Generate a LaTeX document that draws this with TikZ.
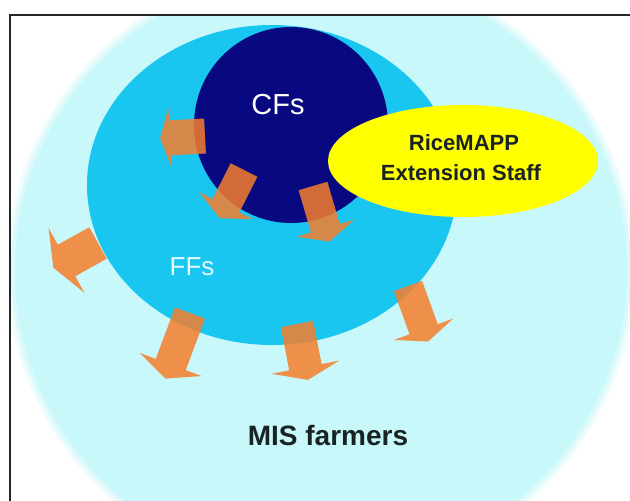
\documentclass[tikz,border=0pt]{standalone}
\usepackage{fontspec}
\setmainfont{Liberation Sans}
\usetikzlibrary{shapes.geometric}
\definecolor{palecyan}{RGB}{200,248,250}
\definecolor{medcyan}{RGB}{24,198,240}
\definecolor{cfnavy}{RGB}{8,8,128}
\definecolor{staffyellow}{RGB}{255,255,0}
\definecolor{arroworange}{RGB}{245,126,44}
\definecolor{darktext}{RGB}{25,35,35}
\tikzset{
  arrowstyle/.style={fill=arroworange, fill opacity=0.85, draw=none},
  pics/barrow/.style args={#1/#2/#3/#4}{code={
    \fill[arrowstyle] (0,-#1/2) -- (#2,-#1/2) -- (#2,-#4/2) -- (#2+#3,0)
      -- (#2,#4/2) -- (#2,#1/2) -- (0,#1/2) -- cycle;
  }},
  blob/.style={ellipse, inner sep=0pt, draw=none},
}
\begin{document}
\begin{tikzpicture}[x=1pt,y=-1pt]
\useasboundingbox (0,0) rectangle (630,501);
\fill[white] (0,0) rectangle (630,501);
\begin{scope}
\clip (10,14.5) rectangle (630,501);
% outer pale region (MIS farmers), with a soft edge
\fill[palecyan, opacity=0.3] (321,270) ellipse [x radius=314, y radius=308];
\fill[palecyan, opacity=0.55] (321,270) ellipse [x radius=310, y radius=304];
\node[blob, fill=palecyan, minimum width=612pt, minimum height=600pt] (farm) at (321,270) {};
% FFs circle
\node[blob, fill=medcyan, minimum width=370pt, minimum height=320pt] (ff) at (272,185) {};
% CFs circle
\node[blob, fill=cfnavy, minimum width=194pt, minimum height=196pt] (cf) at (291,125) {};
% arrows from CFs
\pic[rotate=183] at (205,136) {barrow={35/35/10/60}};
\pic[rotate=-116.8] at (244,170) {barrow={30/40/14/60}};
\pic[rotate=-73.7] at (313,186) {barrow={30/44/14/60}};
% arrows from FFs
\pic[rotate=-151] at (98,243) {barrow={36/36/15/74}};
\pic[rotate=-110.5] at (190,313) {barrow={32/55/15/66}};
\pic[rotate=-79] at (297,324) {barrow={33/44/13/69}};
\pic[rotate=-70.1] at (408,286) {barrow={30/46/13/63}};
% extension staff
\node[blob, fill=staffyellow, minimum width=270pt, minimum height=112pt] (staff) at (463,161) {};
\node[font=\bfseries\fontsize{22}{26}\selectfont, text=darktext] (staff1) at (464,143) {RiceMAPP};
\node[font=\bfseries\fontsize{22}{26}\selectfont, text=darktext] (staff2) at (461,173) {Extension Staff};
% labels
\node[font=\fontsize{29}{34}\selectfont, text=white] (cfs) at (278,105) {CFs};
\node[font=\fontsize{26}{30}\selectfont, text={rgb,255:red,230;green,250;blue,255}] (ffs) at (192,267) {FFs};
\node[font=\bfseries\fontsize{28}{32}\selectfont, text=darktext] (mis) at (328,435.5) {MIS farmers};
\end{scope}
% frame
\draw[line width=2pt, black!85] (10,501) -- (10,14.5) -- (630,14.5);
\end{tikzpicture}
\end{document}
